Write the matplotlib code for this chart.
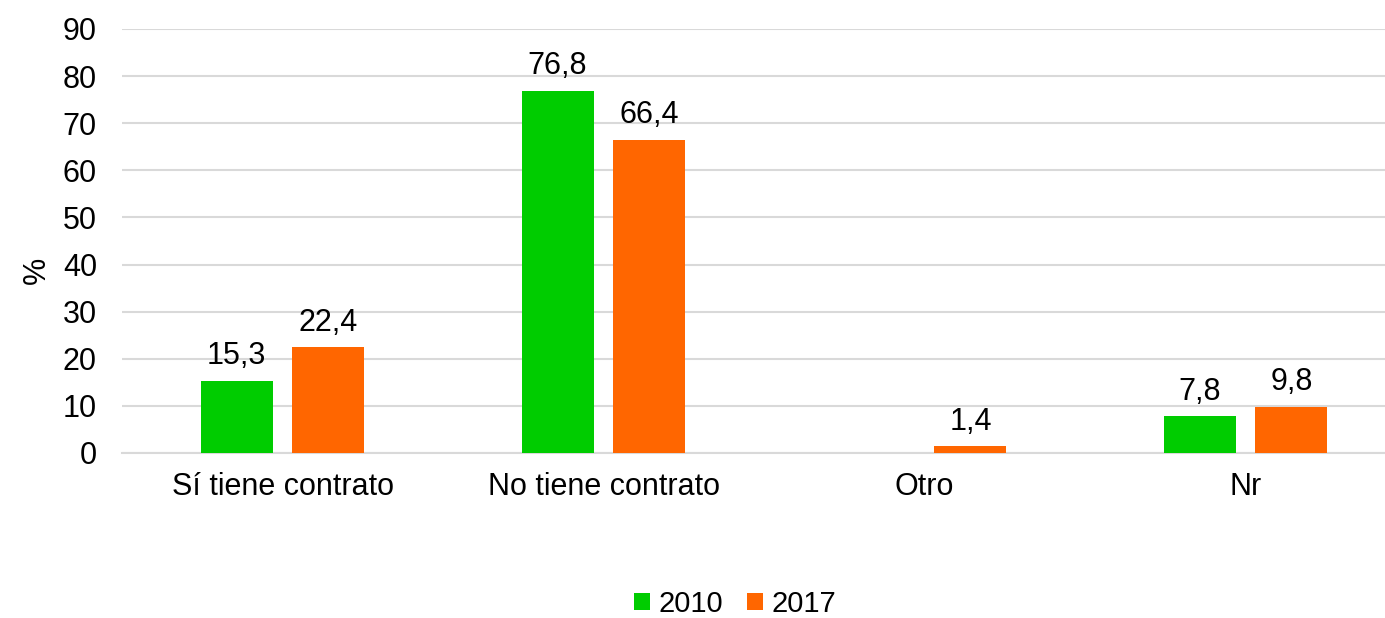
import numpy as np
import matplotlib.pyplot as plt

plt.rcParams['font.family'] = ['Liberation Sans', 'DejaVu Sans']

categories = ['Sí tiene contrato', 'No tiene contrato', 'Otro', 'Nr']
values_2010 = [15.3, 76.8, None, 7.8]
values_2017 = [22.4, 66.4, 1.4, 9.8]
series = [('2010', values_2010, '#00CC00', -0.143),
          ('2017', values_2017, '#FF6600', 0.143)]


def fmt(v):
    return f'{v:.1f}'.replace('.', ',')


def main():
    fig = plt.figure(figsize=(13.85, 6.18), dpi=100)
    ax = fig.add_axes([122 / 1385, 165 / 618, 1263 / 1385, 424 / 618])

    x = np.arange(len(categories))
    for name, vals, color, off in series:
        xs = [xi + off for xi, v in zip(x, vals) if v is not None]
        ys = [v for v in vals if v is not None]
        bars = ax.bar(xs, ys, width=0.224, color=color, label=name, zorder=3)
        for b, v in zip(bars, ys):
            ax.annotate(fmt(v), (b.get_x() + b.get_width() / 2, v),
                        xytext=(0, 7), textcoords='offset points',
                        ha='center', va='bottom', fontsize=22)

    ax.set_xlim(-0.5, -0.5 + 1263 / 321)
    ax.set_ylim(0, 90)
    ax.set_yticks(range(0, 91, 10))
    ax.set_xticks(x)
    ax.set_xticklabels(categories)
    ax.tick_params(axis='both', length=0, labelsize=22)
    ax.tick_params(axis='y', pad=18)
    ax.tick_params(axis='x', pad=14)
    ax.yaxis.grid(True, color='#d9d9d9', linewidth=1.5, zorder=0)
    for s in ['top', 'right', 'left']:
        ax.spines[s].set_visible(False)
    ax.spines['bottom'].set_color('#d9d9d9')
    ax.spines['bottom'].set_linewidth(1.5)
    ax.set_ylabel('%', fontsize=22, labelpad=8, y=0.43)

    fig.legend(loc='center', bbox_to_anchor=(735 / 1385, 1 - 604 / 618),
               ncol=2, frameon=False, fontsize=21, handlelength=0.55,
               handleheight=0.55, handletextpad=0.3, columnspacing=0.8,
               borderpad=0.1)

    fig.savefig('out.png', dpi=100)
    plt.close(fig)


if __name__ == '__main__':
    main()
